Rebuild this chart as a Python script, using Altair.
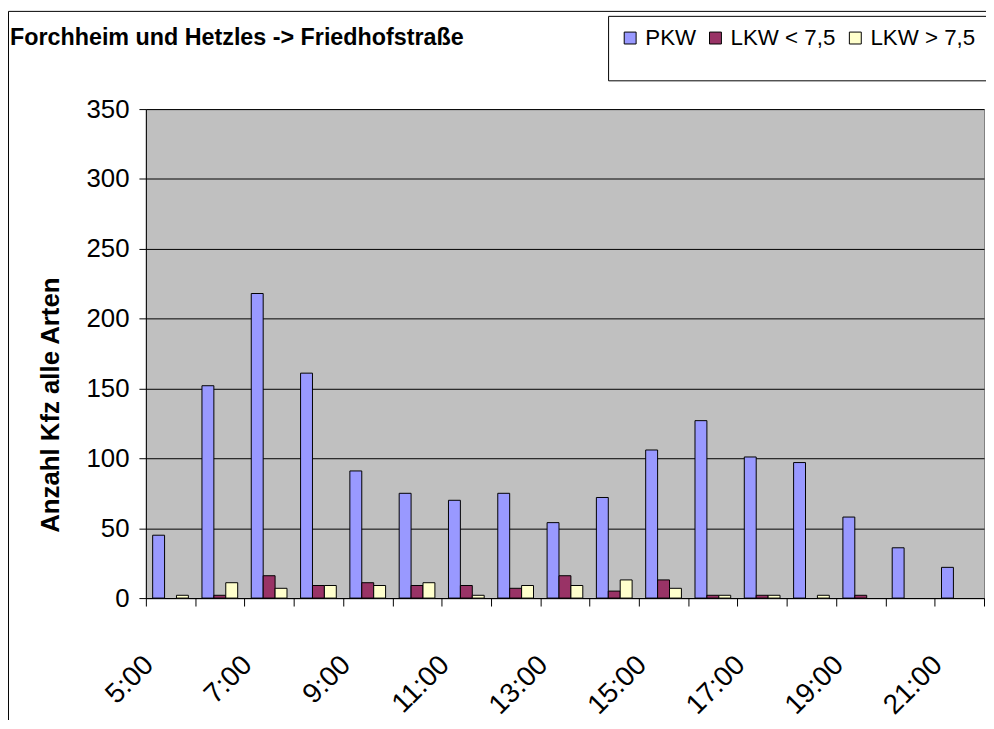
import altair as alt
import pandas as pd

hours = ["5:00", "6:00", "7:00", "8:00", "9:00", "10:00", "11:00", "12:00", "13:00",
         "14:00", "15:00", "16:00", "17:00", "18:00", "19:00", "20:00", "21:00"]
shown_labels = ["5:00", "7:00", "9:00", "11:00", "13:00", "15:00", "17:00", "19:00", "21:00"]
series = ["PKW", "LKW < 7,5", "LKW > 7,5"]
colors = ["#9999FF", "#993366", "#FFFFCC"]

pkw = [45, 152, 218, 161, 91, 75, 70, 75, 54, 72, 106, 127, 101, 97, 58, 36, 22]
lkw_small = [0, 2, 16, 9, 11, 9, 9, 7, 16, 5, 13, 2, 2, 0, 2, 0, 0]
lkw_big = [2, 11, 7, 9, 9, 11, 2, 9, 9, 13, 7, 2, 2, 2, 0, 0, 0]
y_ticks = [0, 50, 100, 150, 200, 250, 300, 350]
chart_title = "Forchheim und Hetzles -> Friedhofstraße"

rows = []
for vals, s in zip([pkw, lkw_small, lkw_big], series):
    for h, v in zip(hours, vals):
        rows.append({"hour": h, "series": s, "value": v})
df = pd.DataFrame(rows)

FONT = "Liberation Sans"
W, H = 845, 493

label_list = "[" + ",".join("'%s'" % l for l in shown_labels) + "]"

bars = alt.Chart(df).transform_filter("datum.value > 0").mark_bar(
    stroke="black", strokeWidth=1
).encode(
    x=alt.X("hour:N", sort=hours, title=None,
            scale=alt.Scale(domain=hours, paddingInner=0, paddingOuter=0),
            axis=alt.Axis(labelAngle=-45, labelAlign="right", labelBaseline="middle",
                          labelExpr="indexof(%s, datum.value) >= 0 ? datum.value : ''" % label_list,
                          labelOverlap=False, labelFontSize=28, labelFont=FONT,
                          labelPadding=55, labelOffset=-22, labelColor="black",
                          tickBand="extent", tickSize=8, tickColor="black",
                          domainColor="black", grid=False)),
    xOffset=alt.XOffset("series:N", sort=series,
                        scale=alt.Scale(domain=series, paddingInner=0, paddingOuter=0.57)),
    y=alt.Y("value:Q", title="Anzahl Kfz alle Arten",
            scale=alt.Scale(domain=[0, 350], nice=False),
            axis=alt.Axis(values=y_ticks, labelFontSize=26, labelFont=FONT, labelColor="black",
                          labelPadding=10, tickSize=7, tickColor="black", domainColor="black",
                          gridColor="black", gridWidth=1, titleFont=FONT, titleFontSize=26,
                          titleFontWeight="bold", titleColor="black", titlePadding=23,
                          titleY=298)),
    color=alt.Color("series:N", sort=series,
                    scale=alt.Scale(domain=series, range=colors),
                    legend=alt.Legend(title=" ", titleOrient="bottom", titleFontSize=16,
                                      titlePadding=4,
                                      orient="none", legendX=466, legendY=-94,
                                      direction="horizontal", columns=3,
                                      symbolType="square", symbolSize=144,
                                      symbolStrokeColor="black", symbolStrokeWidth=1,
                                      labelFont=FONT, labelFontSize=22.5, labelColor="black",
                                      labelOffset=4, columnPadding=8,
                                      padding=11, strokeColor="black", fillColor="white")),
)

frame_df = pd.DataFrame({"k": [0]})
frame_left = alt.Chart(frame_df).mark_rule(color="black", strokeWidth=1).encode(
    x=alt.value(-138.5), y=alt.value(-98.5), y2=alt.value(640))
frame_top = alt.Chart(frame_df).mark_rule(color="black", strokeWidth=1).encode(
    x=alt.value(-138.5), x2=alt.value(860), y=alt.value(-98.5))
title_df = pd.DataFrame({"t": [chart_title]})
title_text = alt.Chart(title_df).mark_text(
    font=FONT, fontSize=23.5, fontWeight="bold", color="black",
    align="left", baseline="alphabetic"
).encode(text="t:N", x=alt.value(-137), y=alt.value(-65))

chart = alt.layer(bars, frame_left, frame_top, title_text).properties(
    width=W, height=H,
    autosize=alt.AutoSizeParams(type="none"),
    padding={"left": 139, "top": 99, "right": 2, "bottom": 120},
    background="white",
).configure_view(
    fill="#C0C0C0", stroke="#808080", strokeWidth=1
)

chart.save("out.html", embed_options={"renderer": "svg", "actions": False})
